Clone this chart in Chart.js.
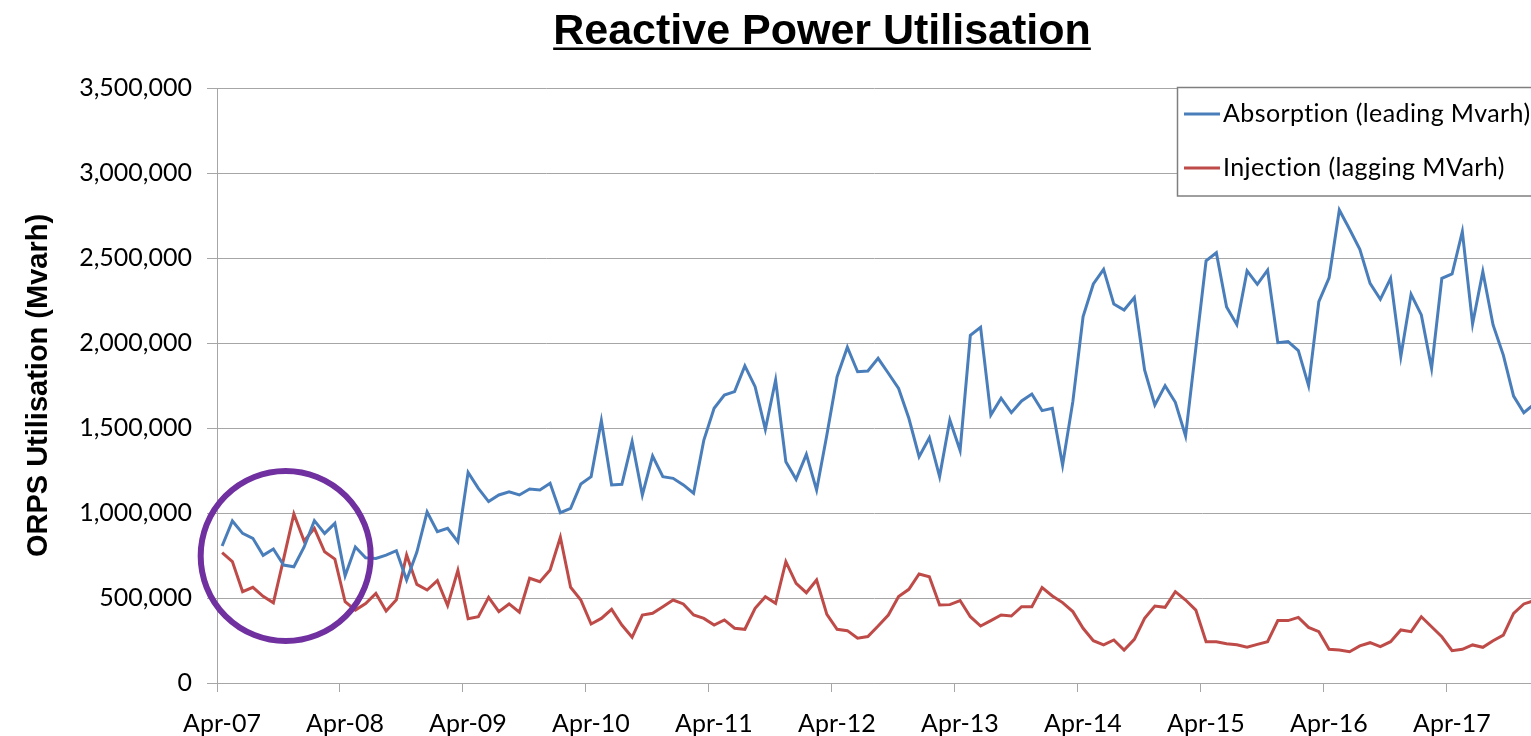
<!DOCTYPE html>
<html>
<head>
<meta charset="utf-8">
<title>Reactive Power Utilisation</title>
<script src="https://cdn.jsdelivr.net/npm/chart.js@4.4.1/dist/chart.umd.min.js"></script>
<style>
  html, body { margin: 0; padding: 0; background: #fff; }
  #wrap { width: 1531px; height: 736px; }
</style>
</head>
<body>
<div id="wrap"><canvas id="utilisation-chart" width="1531" height="736"></canvas></div>
<script>
// Monthly ORPS utilisation from Apr-07, one value per month (Mvarh)
var yearLabels = ["Apr-07","Apr-08","Apr-09","Apr-10","Apr-11","Apr-12","Apr-13","Apr-14","Apr-15","Apr-16","Apr-17"];

var absorption = [
  806000, 953000, 880000, 851000, 751000, 788000, 694000, 684000, 800000, 955000, 880000, 939000,
  631000, 800000, 737000, 733000, 752000, 778000, 606000, 770000, 1006000, 890000, 910000, 831000,
  1239000, 1145000, 1067000, 1106000, 1125000, 1106000, 1141000, 1135000, 1175000, 1002000, 1027000, 1171000,
  1214000, 1543000, 1165000, 1169000, 1420000, 1106000, 1335000, 1214000, 1204000, 1165000, 1116000, 1429000,
  1616000, 1694000, 1714000, 1865000, 1743000, 1492000, 1782000, 1302000, 1198000, 1345000, 1135000, 1459000,
  1802000, 1975000, 1831000, 1835000, 1910000, 1822000, 1733000, 1557000, 1331000, 1443000, 1214000, 1547000,
  1368000, 2045000, 2092000, 1576000, 1675000, 1590000, 1659000, 1700000, 1602000, 1616000, 1282000, 1655000,
  2155000, 2347000, 2433000, 2229000, 2194000, 2267000, 1841000, 1635000, 1749000, 1651000, 1453000, 1970000,
  2484000, 2531000, 2212000, 2108000, 2424000, 2345000, 2429000, 2002000, 2008000, 1955000, 1749000, 2243000,
  2384000, 2782000, 2669000, 2551000, 2351000, 2257000, 2380000, 1920000, 2286000, 2165000, 1851000, 2380000,
  2406000, 2655000, 2112000, 2420000, 2106000, 1929000, 1688000, 1590000, 1640000
];

var injection = [
  767000, 714000, 537000, 563000, 510000, 472000, 730000, 994000, 835000, 910000, 772000, 729000,
  478000, 429000, 467000, 527000, 424000, 490000, 753000, 580000, 547000, 602000, 456000, 663000,
  378000, 390000, 504000, 420000, 465000, 417000, 616000, 596000, 665000, 857000, 563000, 488000,
  347000, 380000, 433000, 341000, 269000, 400000, 410000, 449000, 488000, 465000, 400000, 380000,
  341000, 371000, 322000, 316000, 439000, 508000, 469000, 714000, 586000, 531000, 606000, 404000,
  316000, 308000, 263000, 273000, 335000, 400000, 508000, 551000, 641000, 625000, 459000, 461000,
  485000, 390000, 335000, 367000, 400000, 394000, 449000, 449000, 561000, 512000, 473000, 420000,
  322000, 249000, 224000, 253000, 194000, 257000, 380000, 453000, 445000, 537000, 488000, 429000,
  243000, 243000, 231000, 225000, 210000, 227000, 243000, 367000, 367000, 386000, 327000, 302000,
  198000, 194000, 184000, 218000, 237000, 214000, 243000, 312000, 302000, 390000, 331000, 272000,
  190000, 198000, 224000, 210000, 249000, 282000, 410000, 465000, 485000
];

var seriesNames = ["Absorption (leading Mvarh)", "Injection (lagging MVarh)"];
var seriesColors = ["#4A7EBB", "#BE4B48"];

// points sit in the middle of their month
function toPoints(values) {
  return values.map(function (v, i) { return { x: i + 0.5, y: v }; });
}

var gridGrey = "#a6a6a6";
var textFont = "Lato";

// title with underline, drawn over the plot centre like the original
var titlePlugin = {
  id: "underlinedTitle",
  afterDraw: function (chart) {
    var ctx = chart.ctx;
    var text = "Reactive Power Utilisation";
    ctx.save();
    ctx.font = "bold 43px 'Liberation Sans', Arial, sans-serif";
    ctx.fillStyle = "#000";
    ctx.textAlign = "center";
    ctx.textBaseline = "alphabetic";
    var cx = 822;
    ctx.fillText(text, cx, 44);
    var w = ctx.measureText(text).width;
    ctx.fillRect(cx - w / 2, 47.5, w, 2.5);
    ctx.restore();
  }
};

// boxed legend inside the top right of the plot
var boxLegend = {
  id: "boxLegend",
  afterDraw: function (chart) {
    var ctx = chart.ctx;
    ctx.save();
    ctx.fillStyle = "#fff";
    ctx.fillRect(1177, 87, 400, 109);
    ctx.strokeStyle = "#7f7f7f";
    ctx.lineWidth = 1.5;
    ctx.strokeRect(1177.5, 87.5, 400, 108.5);
    var rows = [114, 168];
    chart.data.datasets.forEach(function (ds, k) {
      ctx.strokeStyle = ds.borderColor;
      ctx.lineWidth = 3;
      ctx.beginPath();
      ctx.moveTo(1184, rows[k]);
      ctx.lineTo(1220, rows[k]);
      ctx.stroke();
      ctx.fillStyle = "#000";
      ctx.font = "25px " + textFont;
      ctx.letterSpacing = "0.4px"; // also stops the "ti" ligature
      ctx.textAlign = "left";
      ctx.textBaseline = "middle";
      ctx.fillText(ds.label, 1223, rows[k]);
    });
    ctx.restore();
  }
};

// purple ring highlighting the first year
var ringPlugin = {
  id: "ring",
  afterDatasetsDraw: function (chart) {
    var ctx = chart.ctx;
    var cx = chart.scales.x.getPixelForValue(6.7);
    var cy = chart.scales.y.getPixelForValue(747000);
    ctx.save();
    ctx.strokeStyle = "#7030A0";
    ctx.lineWidth = 6;
    ctx.beginPath();
    ctx.arc(cx, cy, 85, 0, Math.PI * 2);
    ctx.stroke();
    ctx.restore();
  }
};

var chartCanvas = document.getElementById("utilisation-chart");

var utilisationChart = new Chart(chartCanvas, {
  type: "line",
  data: {
    datasets: [{
      label: seriesNames[0],
      data: toPoints(absorption),
      borderColor: seriesColors[0],
      backgroundColor: seriesColors[0],
      borderWidth: 3,
      pointRadius: 0,
      tension: 0,
      fill: false
    }, {
      label: seriesNames[1],
      data: toPoints(injection),
      borderColor: seriesColors[1],
      backgroundColor: seriesColors[1],
      borderWidth: 3,
      pointRadius: 0,
      tension: 0,
      fill: false
    }]
  },
  options: {
    responsive: false,
    animation: false,
    devicePixelRatio: 1,
    layout: { padding: { top: 88, right: 0, bottom: 0, left: 0 } },
    plugins: {
      legend: { display: false },
      title: { display: false },
      tooltip: { enabled: false }
    },
    scales: {
      x: {
        type: "linear",
        min: 0,
        max: 128.2,
        afterBuildTicks: function (scale) {
          scale.ticks = yearLabels.map(function (_, k) { return { value: k * 12 }; });
        },
        afterFit: function (scale) { scale.height = 53; },
        grid: {
          drawOnChartArea: false,
          drawTicks: true,
          tickLength: 9,
          color: gridGrey,
          lineWidth: 1
        },
        border: { display: true, color: gridGrey, width: 1 },
        ticks: {
          autoSkip: false,
          maxRotation: 0,
          labelOffset: 5,
          padding: 17,
          color: "#000",
          font: { family: textFont, size: 25 },
          callback: function (value) { return yearLabels[Math.round(value / 12)]; }
        }
      },
      y: {
        min: 0,
        max: 3500000,
        afterFit: function (scale) { scale.width = 217; },
        grid: {
          color: gridGrey,
          lineWidth: 1,
          drawTicks: true,
          tickLength: 10
        },
        border: { display: true, color: gridGrey, width: 1 },
        ticks: {
          stepSize: 500000,
          padding: 15,
          color: "#000",
          font: { family: textFont, size: 25 },
          callback: function (value) { return value.toLocaleString("en-US"); }
        },
        title: {
          display: true,
          text: "ORPS Utilisation (Mvarh)",
          color: "#000",
          padding: { top: 22, bottom: 0 },
          font: { family: "'Liberation Sans', Arial, sans-serif", size: 29, weight: "bold" }
        }
      }
    }
  },
  plugins: [titlePlugin, boxLegend, ringPlugin]
});
</script>
</body>
</html>
